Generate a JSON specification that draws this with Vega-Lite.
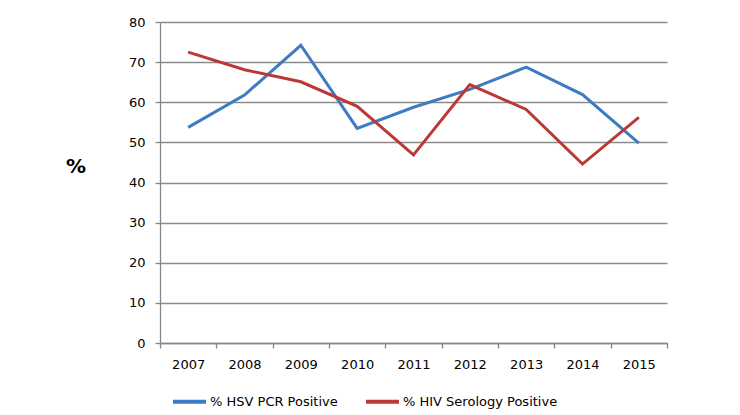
{
  "$schema": "https://vega.github.io/schema/vega-lite/v6.json",
  "autosize": "none",
  "width": 507,
  "height": 321,
  "padding": {"left": 160, "top": 22, "right": 73, "bottom": 72},
  "background": "white",
  "data": {
    "values": [
      {"year": "2007", "series": "% HSV PCR Positive", "value": 53.75},
      {"year": "2008", "series": "% HSV PCR Positive", "value": 61.8},
      {"year": "2009", "series": "% HSV PCR Positive", "value": 74.2},
      {"year": "2010", "series": "% HSV PCR Positive", "value": 53.5},
      {"year": "2011", "series": "% HSV PCR Positive", "value": 58.75},
      {"year": "2012", "series": "% HSV PCR Positive", "value": 63.2},
      {"year": "2013", "series": "% HSV PCR Positive", "value": 68.75},
      {"year": "2014", "series": "% HSV PCR Positive", "value": 61.9},
      {"year": "2015", "series": "% HSV PCR Positive", "value": 49.8},
      {"year": "2007", "series": "% HIV Serology Positive", "value": 72.5},
      {"year": "2008", "series": "% HIV Serology Positive", "value": 68.1},
      {"year": "2009", "series": "% HIV Serology Positive", "value": 65.1},
      {"year": "2010", "series": "% HIV Serology Positive", "value": 59.0},
      {"year": "2011", "series": "% HIV Serology Positive", "value": 46.9},
      {"year": "2012", "series": "% HIV Serology Positive", "value": 64.4},
      {"year": "2013", "series": "% HIV Serology Positive", "value": 58.2},
      {"year": "2014", "series": "% HIV Serology Positive", "value": 44.6},
      {"year": "2015", "series": "% HIV Serology Positive", "value": 56.25}
    ]
  },
  "mark": {"type": "line", "strokeWidth": 3},
  "encoding": {
    "x": {
      "field": "year",
      "type": "ordinal",
      "scale": {"type": "band", "paddingInner": 0, "paddingOuter": 0},
      "axis": {
        "title": null,
        "labelAngle": 0,
        "tickBand": "extent",
        "grid": false,
        "ticks": true,
        "tickSize": 5,
        "tickColor": "#868686",
        "tickWidth": 1.3,
        "domainColor": "#868686",
        "domainWidth": 1.3,
        "labelPadding": 10,
        "labelFont": "DejaVu Sans",
        "labelFontSize": 13,
        "labelColor": "#000000"
      }
    },
    "y": {
      "field": "value",
      "type": "quantitative",
      "scale": {"domain": [0, 80], "nice": false},
      "axis": {
        "values": [0, 10, 20, 30, 40, 50, 60, 70, 80],
        "title": "%",
        "titleAngle": 0,
        "titleX": -84.5,
        "titleY": 144,
        "titleAlign": "center",
        "titleBaseline": "middle",
        "titleFont": "DejaVu Sans",
        "titleFontSize": 20,
        "titleFontWeight": "bold",
        "titleColor": "#000000",
        "grid": true,
        "gridColor": "#8a8a8a",
        "gridWidth": 1.3,
        "ticks": true,
        "tickSize": 5,
        "tickColor": "#868686",
        "tickWidth": 1.3,
        "domainColor": "#868686",
        "domainWidth": 1.3,
        "labelPadding": 10,
        "labelFont": "DejaVu Sans",
        "labelFontSize": 13,
        "labelColor": "#000000"
      }
    },
    "color": {
      "field": "series",
      "type": "nominal",
      "scale": {
        "domain": ["% HSV PCR Positive", "% HIV Serology Positive"],
        "range": ["#3d7bc3", "#bb3934"]
      },
      "legend": {
        "title": null,
        "orient": "none",
        "direction": "horizontal",
        "legendX": 11,
        "legendY": 361,
        "symbolType": "stroke",
        "symbolSize": 1089,
        "symbolStrokeWidth": 4,
        "labelFont": "DejaVu Sans",
        "labelFontSize": 13,
        "labelColor": "#000000",
        "labelOffset": 2,
        "columnPadding": 20
      }
    }
  },
  "config": {
    "view": {"stroke": null}
  }
}
